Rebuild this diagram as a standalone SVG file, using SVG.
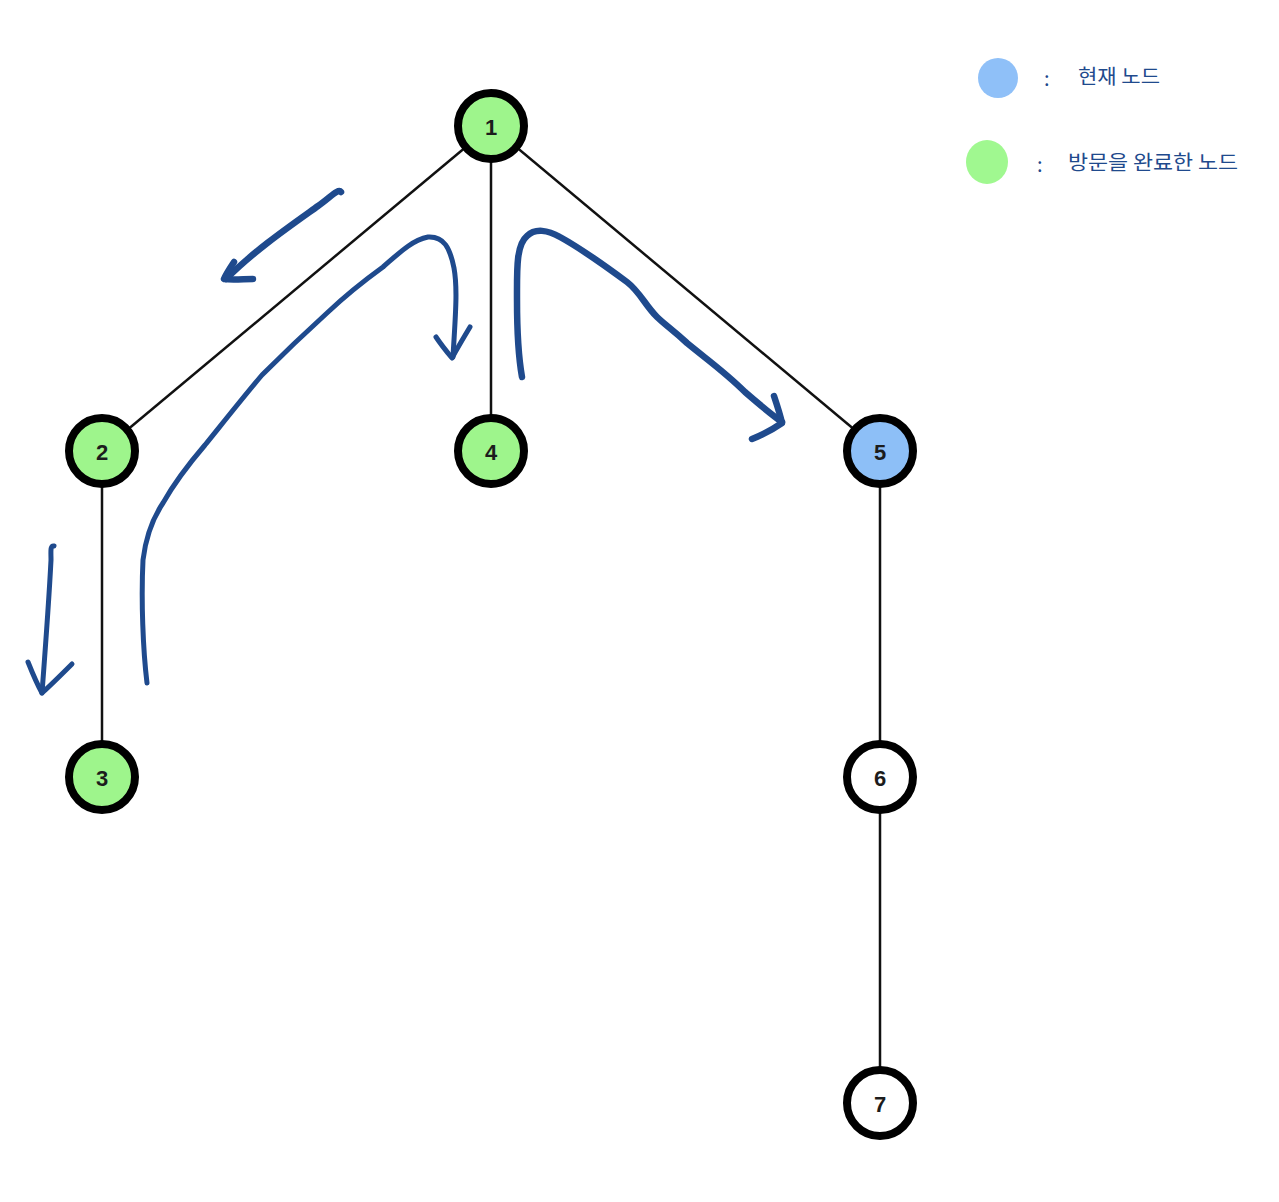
<svg xmlns="http://www.w3.org/2000/svg" width="1279" height="1202" viewBox="0 0 1279 1202">
  <style>
    .edge { stroke: #111; stroke-width: 2.5; fill: none; }
    .node circle { stroke: #000; stroke-width: 8; }
    .visited circle { fill: #9ef58c; }
    .current circle { fill: #8dbff7; }
    .fresh circle { fill: #fff; }
    .node text { font-family: "Liberation Sans", "DejaVu Sans", sans-serif; font-size: 22px; font-weight: bold; fill: #1c1c1c; text-anchor: middle; dominant-baseline: central; }
    .stroke { stroke: #1f4a8d; stroke-width: 5; fill: none; stroke-linecap: round; stroke-linejoin: round; }
    .bold { stroke-width: 6.5; }
    .note { font-family: "Noto Sans CJK KR", "Noto Sans", sans-serif; font-size: 20px; fill: #1f4a8d; }
  </style>
  <rect width="1279" height="1202" fill="#fff"/>

  <!-- tree edges -->
  <g id="connectors">
    <line class="edge" x1="491" y1="126" x2="102" y2="451"/>
    <line class="edge" x1="491" y1="126" x2="491" y2="451"/>
    <line class="edge" x1="491" y1="126" x2="880" y2="451"/>
    <line class="edge" x1="102" y1="451" x2="102" y2="777"/>
    <line class="edge" x1="880" y1="451" x2="880" y2="777"/>
    <line class="edge" x1="880" y1="777" x2="880" y2="1103"/>
  </g>

  <!-- nodes -->
  <g id="node1" class="node visited"><circle cx="491" cy="126" r="33"/><text x="491" y="127">1</text></g>
  <g id="node2" class="node visited"><circle cx="102" cy="451" r="33"/><text x="102" y="452">2</text></g>
  <g id="node4" class="node visited"><circle cx="491" cy="451" r="33"/><text x="491" y="452">4</text></g>
  <g id="node5" class="node current"><circle cx="880" cy="451" r="33"/><text x="880" y="452">5</text></g>
  <g id="node3" class="node visited"><circle cx="102" cy="777" r="33"/><text x="102" y="778">3</text></g>
  <g id="node6" class="node fresh"><circle cx="880" cy="777" r="33"/><text x="880" y="778">6</text></g>
  <g id="node7" class="node fresh"><circle cx="880" cy="1103" r="33"/><text x="880" y="1104">7</text></g>

  <!-- hand-drawn traversal strokes -->
  <g id="traversal">
    <!-- 1 to 2 -->
    <path class="stroke bold" d="M341,192 C338,188 330,198 318,206 C290,226 255,250 226,279"/>
    <path class="stroke bold" d="M234,262 C230,268 226,274 224,279 C232,280 244,279 253,279"/>
    <!-- 2 to 3 -->
    <path class="stroke" d="M54,546 C50,545 51,552 51,560 C49,600 46,640 42,693"/>
    <path class="stroke" d="M28,662 C32,672 37,684 42,693 C52,684 62,674 72,664"/>
    <!-- back up from 3 and over to 4 -->
    <path class="stroke" d="M147,683 C143,650 141,600 143,560 C146,535 155,515 163,503 C172,487 187,466 205,445 C222,424 245,395 262,375 C285,352 305,333 327,313 C345,296 365,280 383,267 C398,254 412,240 428,237 C444,236 450,248 454,268 C458,290 455,320 453,357"/>
    <path class="stroke" d="M436,337 C442,346 447,352 452,358 C458,347 464,337 470,327"/>
    <!-- back up from 4 and over to 5 -->
    <path class="stroke bold" d="M522,377 C519,360 517,330 517,300 C517,270 516,245 527,236 C535,228 548,230 560,237 C580,248 600,262 627,282 C640,292 645,305 657,317 C664,324 672,329 687,343 C705,358 725,372 745,392 C760,405 772,415 782,422"/>
    <path class="stroke bold" d="M774,396 C777,405 780,414 782,423 C772,430 762,435 752,439"/>
  </g>

  <!-- legend -->
  <g id="legend">
    <circle cx="998" cy="78" r="20" fill="#8fc0f8"/>
    <text class="note" x="1044" y="86">:</text>
    <text class="note" x="1078" y="84" textLength="82" lengthAdjust="spacingAndGlyphs">현재 노드</text>
    <ellipse cx="987" cy="162" rx="21" ry="22" fill="#a0f890"/>
    <text class="note" x="1037" y="172">:</text>
    <text class="note" x="1068" y="170" textLength="170" lengthAdjust="spacingAndGlyphs">방문을 완료한 노드</text>
  </g>
</svg>
